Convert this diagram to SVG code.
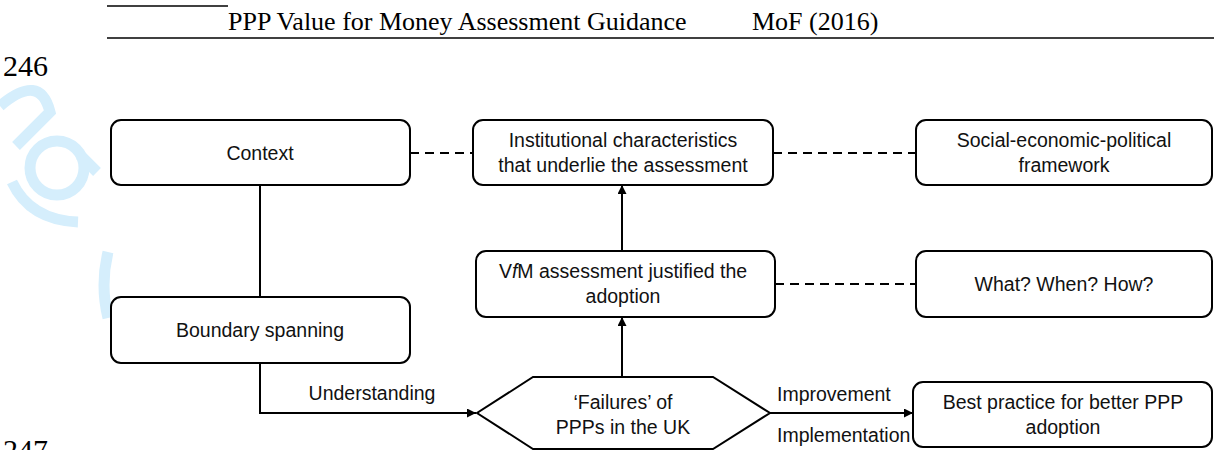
<svg xmlns="http://www.w3.org/2000/svg" width="1214" height="450" viewBox="0 0 1214 450">
<defs>
<style>
.box{fill:#fff;stroke:#000;stroke-width:2}
.t{font-family:"Liberation Sans",Arial,sans-serif;font-size:19.5px;fill:#111;text-anchor:middle}
.lbl{font-family:"Liberation Sans",Arial,sans-serif;font-size:19.5px;fill:#111}
.hd{font-family:"Liberation Serif","Times New Roman",serif;font-size:26px;fill:#000}
.pg{font-family:"Liberation Serif","Times New Roman",serif;font-size:30px;fill:#000}
.ln{fill:none;stroke:#000;stroke-width:2}
.dash{fill:none;stroke:#000;stroke-width:2;stroke-dasharray:9 6}
.wm{fill:none;stroke:#d5eefc;stroke-width:11}
</style>
<marker id="arr" viewBox="0 0 10 10" refX="10" refY="5" markerWidth="9" markerHeight="9" markerUnits="userSpaceOnUse" orient="auto">
<path d="M0 0 L10 5 L0 10 z" fill="#000"/>
</marker>
</defs>
<rect width="1214" height="450" fill="#fff"/>
<g id="watermark">
<path class="wm" d="M0 106 Q40 72 50 112 L16 146"/>
<circle class="wm" cx="57" cy="168" r="27"/>
<path class="wm" d="M80 155 L97 172"/>
<path class="wm" d="M12 182 Q30 220 78 222"/>
<path class="wm" d="M108 252 Q100 285 108 318"/>
</g>
<g id="header">
<line x1="107" y1="6" x2="228" y2="6" stroke="#000" stroke-width="1.5"/>
<text class="hd" x="228" y="30">PPP Value for Money Assessment Guidance</text>
<text class="hd" x="752" y="30">MoF (2016)</text>
<line x1="107" y1="38" x2="1214" y2="38" stroke="#000" stroke-width="1.5"/>
<text class="pg" x="3" y="76">246</text>
<text class="pg" x="3" y="460">247</text>
</g>
<g id="connectors">
<line class="dash" x1="410" y1="153" x2="473" y2="153"/>
<line class="dash" x1="773" y1="153" x2="916" y2="153"/>
<line class="dash" x1="775" y1="284" x2="916" y2="284"/>
<line class="ln" x1="260" y1="185" x2="260" y2="297"/>
<path class="ln" d="M260 363 V413 H476" marker-end="url(#arr)"/>
<line class="ln" x1="770" y1="413" x2="913" y2="413" marker-end="url(#arr)"/>
<line class="ln" x1="622" y1="377" x2="622" y2="317" marker-end="url(#arr)"/>
<line class="ln" x1="622" y1="251" x2="622" y2="185" marker-end="url(#arr)"/>
<text class="lbl" x="372" y="400" text-anchor="middle">Understanding</text>
<text class="lbl" x="777" y="401">Improvement</text>
<text class="lbl" x="777" y="442">Implementation</text>
</g>
<g id="context">
<rect class="box" x="111" y="120" width="299" height="65" rx="10"/>
<text class="t" x="260" y="160">Context</text>
</g>
<g id="institutional">
<rect class="box" x="473" y="120" width="300" height="65" rx="10"/>
<text class="t" x="623" y="147">Institutional characteristics</text>
<text class="t" x="623" y="172">that underlie the assessment</text>
</g>
<g id="social">
<rect class="box" x="916" y="120" width="296" height="65" rx="10"/>
<text class="t" x="1064" y="147">Social-economic-political</text>
<text class="t" x="1064" y="172">framework</text>
</g>
<g id="vfm">
<rect class="box" x="476" y="251" width="299" height="66" rx="10"/>
<text class="t" x="623" y="278">V<tspan font-style="italic">f</tspan>M assessment justified the</text>
<text class="t" x="623" y="303">adoption</text>
</g>
<g id="what">
<rect class="box" x="916" y="251" width="296" height="66" rx="10"/>
<text class="t" x="1064" y="291">What? When? How?</text>
</g>
<g id="boundary">
<rect class="box" x="111" y="297" width="299" height="66" rx="10"/>
<text class="t" x="260" y="337">Boundary spanning</text>
</g>
<g id="failures">
<polygon class="box" points="533,377 713,377 770,413 713,449 533,449 477,413"/>
<text class="t" x="623" y="409">‘Failures’ of</text>
<text class="t" x="623" y="434">PPPs in the UK</text>
</g>
<g id="bestpractice">
<rect class="box" x="913" y="382" width="299" height="65" rx="10"/>
<text class="t" x="1063" y="409">Best practice for better PPP</text>
<text class="t" x="1063" y="434">adoption</text>
</g>
</svg>
